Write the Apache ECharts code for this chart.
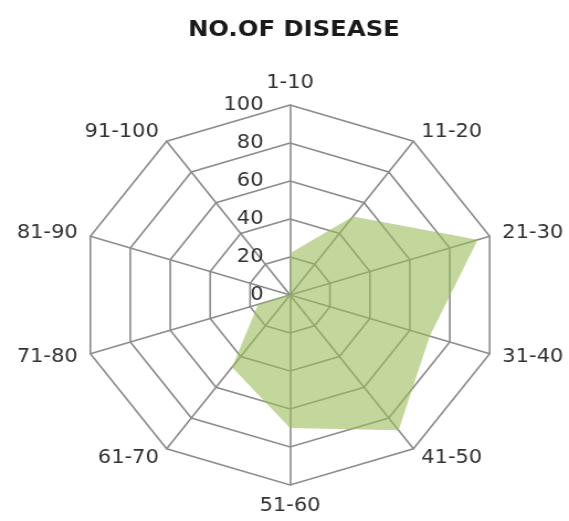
<!DOCTYPE html>
<html>
<head>
<meta charset="utf-8">
<script src="https://cdn.jsdelivr.net/npm/echarts@6/dist/echarts.min.js"></script>
<style>
html,body{margin:0;padding:0;background:#fff;overflow:hidden;}
#main{width:515px;height:521px;transform:scaleX(1.10485);transform-origin:0 0;}
</style>
</head>
<body>
<div id="main"></div>
<script>
// Data (clockwise from top)
const titleText = 'NO.OF DISEASE';
const categories = ['1-10','11-20','21-30','31-40','41-50','51-60','61-70','71-80','81-90','91-100'];
const diseaseCounts = [22, 51, 94, 70, 88, 70, 47, 16, 1, 0];
const axisMax = 100;
const tickCount = 5;

// ECharts radar runs counter-clockwise; reorder to draw clockwise
const order = [0].concat(categories.map((_, i) => i).slice(1).reverse());
const indicators = order.map((i, k) => {
  const ind = { name: categories[i], max: axisMax, min: 0 };
  if (k === 0) {
    ind.axisLabel = { show: true, color: '#333333', fontSize: 19, fontFamily: 'DejaVu Sans', margin: 24 };
  }
  return ind;
});
const values = order.map(i => diseaseCounts[i]);

const chart = echarts.init(document.getElementById('main'), null, { renderer: 'canvas' });
chart.setOption({
  animation: false,
  backgroundColor: '#ffffff',
  title: {
    text: titleText,
    left: 261,
    top: 14,
    textAlign: 'center',
    textStyle: { fontFamily: 'DejaVu Sans', fontWeight: 'bold', fontSize: 22, color: '#1a1a1a' }
  },
  radar: {
    center: [262.5, 295],
    radius: 190,
    shape: 'polygon',
    splitNumber: tickCount,
    nameGap: 12,
    axisName: { color: '#333333', fontSize: 19, fontFamily: 'DejaVu Sans' },
    axisLine: { show: true, lineStyle: { color: '#8c8c8c', width: 1.6 } },
    splitLine: { show: true, lineStyle: { color: '#8c8c8c', width: 1.6 } },
    splitArea: { show: false },
    axisTick: { show: false },
    axisLabel: { show: false },
    indicator: indicators
  },
  series: [{
    type: 'radar',
    symbol: 'none',
    lineStyle: { width: 0, opacity: 0 },
    areaStyle: { color: '#9BBB59', opacity: 0.6 },
    data: [{ value: values, name: titleText }]
  }]
});
</script>
</body>
</html>
